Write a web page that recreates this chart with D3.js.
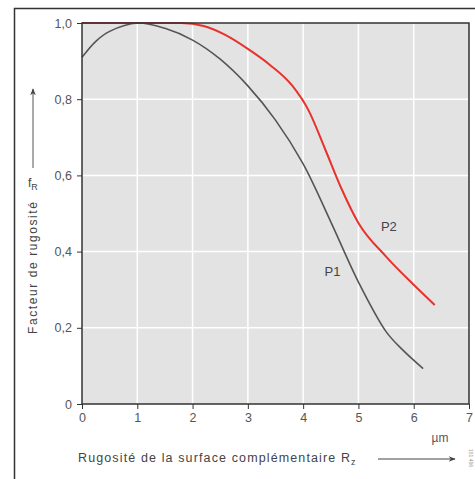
<!DOCTYPE html>
<html>
<head>
<meta charset="utf-8">
<script src="https://cdn.jsdelivr.net/npm/d3@7"></script>
<style>
    body { margin: 0; background: #fff; }
    svg { display: block; font-family: "Liberation Sans", Arial, sans-serif; }
    .tick text { fill: #555; font-size: 12.5px; }
</style>
</head>
<body>
<svg id="chart" width="475" height="479"></svg>
<script>
// curve P1 (grey) and P2 (red): roughness Rz in µm -> factor fR
const p1X = [0, 0.25, 0.5, 1.0, 1.5, 2.0, 2.5, 3.0, 3.5, 4.0, 4.5, 5.0, 5.5, 5.8, 6.17];
const p1Y = [0.91, 0.952, 0.978, 1.0, 0.986, 0.955, 0.905, 0.835, 0.745, 0.63, 0.478, 0.32, 0.19, 0.142, 0.093];
const p2X = [0, 1.0, 1.8, 2.2, 2.6, 3.0, 3.4, 3.8, 4.1, 4.4, 4.7, 5.0, 5.5, 6.0, 6.38];
const p2Y = [1.0, 1.0, 1.0, 0.992, 0.968, 0.932, 0.89, 0.836, 0.77, 0.668, 0.563, 0.475, 0.387, 0.313, 0.26];
const xTicks = [0, 1, 2, 3, 4, 5, 6, 7];
const yTicks = [0, 0.2, 0.4, 0.6, 0.8, 1.0];

const svg = d3.select('#chart');
const margin = {left: 82, top: 23, right: 6, bottom: 75};
const width = 475 - margin.left - margin.right;
const height = 479 - margin.top - margin.bottom;

const x = d3.scaleLinear().domain([0, 7]).range([0, width]);
const y = d3.scaleLinear().domain([0, 1]).range([height, 0]);

// outer frame (top and left only, the rest is cut off)
svg.append('path')
    .attr('d', 'M14.5,479 L14.5,8.5 L475,8.5')
    .attr('fill', 'none').attr('stroke', '#333').attr('stroke-width', 1.5);

const g = svg.append('g').attr('transform', `translate(${margin.left},${margin.top})`);

// plot background
g.append('rect').attr('width', width).attr('height', height).attr('fill', '#e3e3e3');

// grid
g.append('g').selectAll('line').data(xTicks.slice(1, -1)).join('line')
    .attr('x1', d => x(d)).attr('x2', d => x(d)).attr('y1', 0).attr('y2', height)
    .attr('stroke', '#fff').attr('stroke-width', 1.5);
g.append('g').selectAll('line').data(yTicks.slice(1, -1)).join('line')
    .attr('y1', d => y(d)).attr('y2', d => y(d)).attr('x1', 0).attr('x2', width)
    .attr('stroke', '#fff').attr('stroke-width', 1.5);

// curves: P2 falls monotonically, P1 has a maximum near 1 µm
const lineP2 = d3.line().x(d => x(d[0])).y(d => y(d[1])).curve(d3.curveMonotoneX);
const lineP1 = d3.line().x(d => x(d[0])).y(d => y(d[1])).curve(d3.curveCatmullRom.alpha(0.5));
g.append('path').datum(d3.zip(p2X, p2Y)).attr('d', lineP2)
    .attr('fill', 'none').attr('stroke', '#e8322c').attr('stroke-width', 2);
g.append('path').datum(d3.zip(p1X, p1Y)).attr('d', lineP1)
    .attr('fill', 'none').attr('stroke', '#555').attr('stroke-width', 1.6);

// plot border
g.append('rect').attr('width', width).attr('height', height)
    .attr('fill', 'none').attr('stroke', '#333').attr('stroke-width', 1.5);

// axes
const fmt = d => d === 0 ? '0' : d3.format('.1f')(d).replace('.', ',');
g.append('g').attr('transform', `translate(0,${height})`)
    .call(d3.axisBottom(x).tickValues(xTicks).tickSize(5).tickPadding(4).tickFormat(d3.format('d')))
    .call(a => a.select('.domain').remove())
    .call(a => a.selectAll('.tick line').attr('stroke', '#333'));
g.append('g')
    .call(d3.axisLeft(y).tickValues(yTicks).tickSize(5).tickPadding(5).tickFormat(fmt))
    .call(a => a.select('.domain').remove())
    .call(a => a.selectAll('.tick line').attr('stroke', '#333'));

// curve labels
g.append('text').attr('x', x(5.55)).attr('y', y(0.455)).attr('text-anchor', 'middle')
    .attr('font-size', 13).attr('fill', '#444').text('P2');
g.append('text').attr('x', x(4.53)).attr('y', y(0.335)).attr('text-anchor', 'middle')
    .attr('font-size', 13).attr('fill', '#444').text('P1');

// y axis title, symbol and arrow
svg.append('text').attr('transform', 'translate(37,268) rotate(-90)')
    .attr('text-anchor', 'middle').attr('font-size', 12).attr('fill', '#444')
    .attr('textLength', 132).attr('lengthAdjust', 'spacing')
    .text('Facteur de rugosité');
const fr = svg.append('text').attr('x', 28).attr('y', 187).attr('font-size', 12).attr('fill', '#444');
fr.append('tspan').text('f');
fr.append('tspan').attr('dy', 3).attr('font-size', 9).text('R');

const defs = svg.append('defs');
defs.append('marker').attr('id', 'arrow').attr('viewBox', '0 0 10 10')
    .attr('refX', 9).attr('refY', 5).attr('markerWidth', 8).attr('markerHeight', 7)
    .attr('markerUnits', 'userSpaceOnUse').attr('orient', 'auto')
    .append('path').attr('d', 'M0,1 L10,5 L0,9 L3,5 Z').attr('fill', '#444');
svg.append('line').attr('x1', 33).attr('x2', 33).attr('y1', 168).attr('y2', 89)
    .attr('stroke', '#555').attr('stroke-width', 1).attr('marker-end', 'url(#arrow)');

// x axis title, unit and arrow
const xt = svg.append('text').attr('x', 78).attr('y', 462).attr('font-size', 12.5).attr('fill', '#444');
xt.append('tspan').attr('textLength', 272).attr('lengthAdjust', 'spacing')
    .text('Rugosité de la surface complémentaire R');
xt.append('tspan').attr('dy', 3).attr('font-size', 9).text('z');
svg.append('text').attr('x', 440).attr('y', 442).attr('text-anchor', 'middle')
    .attr('font-size', 12).attr('fill', '#555').text('µm');
svg.append('line').attr('x1', 378).attr('x2', 455).attr('y1', 459).attr('y2', 459)
    .attr('stroke', '#444').attr('stroke-width', 1.2).attr('marker-end', 'url(#arrow)');

// tiny figure reference
svg.append('text').attr('transform', 'translate(469,458) rotate(90)')
    .attr('text-anchor', 'middle').attr('font-size', 5).attr('fill', '#999').text('151 456');
</script>
</body>
</html>
